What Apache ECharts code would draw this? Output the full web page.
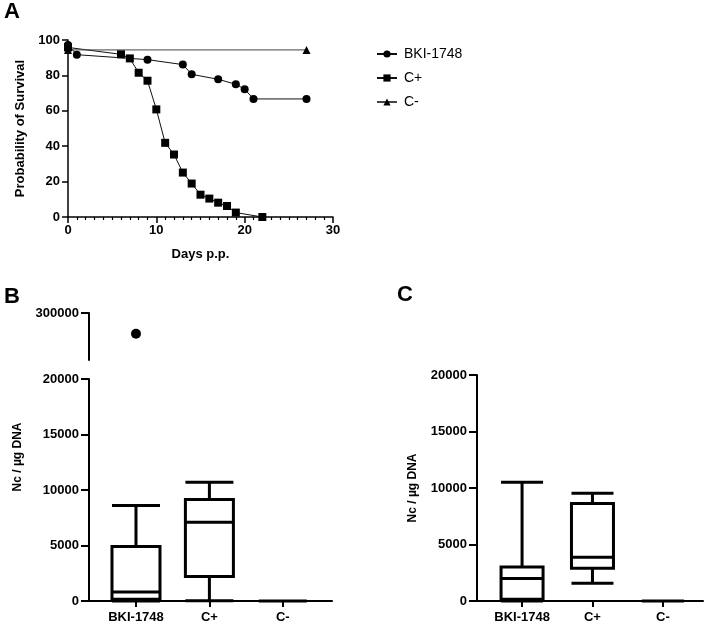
<!DOCTYPE html>
<html><head><meta charset="utf-8">
<script src="https://cdn.jsdelivr.net/npm/echarts@6/dist/echarts.min.js"></script>
<style>html,body{margin:0;padding:0;background:#fff}#c{width:705px;height:625px}</style>
</head><body><div id="c"></div>
<script>
// ---- data ----
const survivalNames = ['BKI-1748', 'C+', 'C-'];
const bkiSurvival = [[0,97.2],[1,91.7],[9,88.9],[13,86.1],[14,80.6],[17,77.8],[19,75],[20,72.2],[21,66.7],[27,66.7]];
const cPosSurvival = [[0,95.8],[6,91.9],[7,89.6],[8,81.5],[9,77],[10,60.8],[11,41.9],[12,35.3],[13,25.1],[14,18.9],[15,12.6],[16,10.4],[17,8.1],[18,6.2],[19,2.5],[22,0]];
const cNegSurvival = [[0,94.4],[27,94.4]];
const groupCats = ['BKI-1748', 'C+', 'C-'];
// boxplot values: [position, min, Q1, median, Q3, max]
const boxB = [[0,0,150,800,4900,8600],[1,30,2200,7100,9150,10700],[2,0,0,0,0,0]];
const outlierB = [[0,278000]];
const boxC = [[0,0,150,2000,3000,10500],[1,1570,2900,3870,8620,9540],[2,0,0,0,0,0]];
const survivalTicks = [0,20,40,60,80,100];

const FF = 'Liberation Sans';
const lab = {color:'#000', fontFamily:FF, fontWeight:'bold', fontSize:13, formatter:v=>String(v)};
function catAxis(grid, max){
  return {type:'value', gridIndex:grid, min:-0.64, max:max,
    axisLine:{show:true, onZero:false, lineStyle:{color:'#000', width:2}},
    axisTick:{show:true, length:6, lineStyle:{color:'#000', width:2}, customValues:[0,1,2]},
    axisLabel:Object.assign({}, lab, {margin:10, customValues:[0,1,2], formatter:v=>groupCats[Math.round(v)]}),
    splitLine:{show:false}};
}
function valAxis(grid, extra){
  return Object.assign({type:'value', gridIndex:grid, min:0, max:20000, interval:5000,
     axisLine:{show:true, onZero:false, lineStyle:{color:'#000', width:2}},
     axisTick:{show:true, length:8, lineStyle:{color:'#000', width:2}},
     axisLabel:Object.assign({}, lab, {margin:10}),
     splitLine:{show:false}}, extra || {});
}
const chart = echarts.init(document.getElementById('c'), null, {renderer:'canvas'});
chart.setOption({
  animation:false,
  backgroundColor:'#fff',
  title:[
    {text:'A', left:4, top:1, padding:0, textStyle:{fontFamily:FF, fontWeight:'bold', fontSize:22, color:'#000'}},
    {text:'B', left:4, top:286, padding:0, textStyle:{fontFamily:FF, fontWeight:'bold', fontSize:22, color:'#000'}},
    {text:'C', left:397, top:284, padding:0, textStyle:{fontFamily:FF, fontWeight:'bold', fontSize:22, color:'#000'}}
  ],
  legend:{orient:'vertical', left:371, top:42, itemWidth:20, itemHeight:9, itemGap:10,
    data:survivalNames,
    textStyle:{fontFamily:FF, fontSize:14, color:'#000', padding:[0,0,0,2]}},
  grid:[
    {left:68, top:40, width:265, height:177},
    {left:89, top:313, width:243, height:47},
    {left:89, top:379, width:243, height:222},
    {left:477, top:375, width:226, height:226}
  ],
  xAxis:[
    {type:'value', gridIndex:0, min:0, max:30, interval:10,
     name:'Days p.p.', nameLocation:'middle', nameGap:31,
     nameTextStyle:{fontFamily:FF, fontWeight:'bold', fontSize:13, color:'#000'},
     axisLine:{show:true, lineStyle:{color:'#000', width:1.5}},
     axisTick:{show:true, length:6, lineStyle:{color:'#000', width:1.5}},
     minorTick:{show:true, splitNumber:10, length:3, lineStyle:{color:'#000', width:1.2}},
     axisLabel:Object.assign({}, lab, {margin:7}),
     splitLine:{show:false}},
    {type:'value', gridIndex:1, min:-0.64, max:2.67, show:false},
    catAxis(2, 2.67),
    catAxis(3, 2.57)
  ],
  yAxis:[
    {type:'value', gridIndex:0, min:0, max:100, interval:20,
     name:'Probability of Survival', nameLocation:'middle', nameGap:41,
     nameTextStyle:{fontFamily:FF, fontWeight:'bold', fontSize:13, color:'#000'},
     axisLine:{show:true, onZero:false, lineStyle:{color:'#000', width:1.5}},
     axisTick:{show:true, length:6, lineStyle:{color:'#000', width:1.5}},
     axisLabel:Object.assign({}, lab, {margin:8, customValues:survivalTicks}),
     splitLine:{show:false}},
    {type:'value', gridIndex:1, min:250000, max:300000, interval:50000,
     axisLine:{show:true, onZero:false, lineStyle:{color:'#000', width:2}},
     axisTick:{show:true, length:8, lineStyle:{color:'#000', width:2}, customValues:[300000]},
     axisLabel:Object.assign({}, lab, {margin:10, customValues:[300000]}),
     splitLine:{show:false}},
    valAxis(2),
    valAxis(3, {name:'Nc / µg DNA', nameLocation:'middle', nameGap:58,
     nameTextStyle:{fontFamily:FF, fontWeight:'bold', fontSize:12, color:'#000'}})
  ],
  graphic:[
    {type:'text', x:18, y:457, rotation:Math.PI/2,
     style:{text:'Nc / µg DNA', fontFamily:FF, fontWeight:'bold', fontSize:12, fill:'#000', align:'center', verticalAlign:'middle'}}
  ],
  series:[
    {name:'BKI-1748', type:'line', xAxisIndex:0, yAxisIndex:0, data:bkiSurvival,
     symbol:'circle', symbolSize:8, itemStyle:{color:'#000'}, lineStyle:{color:'#111', width:1}},
    {name:'C+', type:'line', xAxisIndex:0, yAxisIndex:0, data:cPosSurvival,
     symbol:'rect', symbolSize:8, itemStyle:{color:'#000'}, lineStyle:{color:'#111', width:1}},
    {name:'C-', type:'line', xAxisIndex:0, yAxisIndex:0, data:cNegSurvival,
     symbol:'triangle', symbolSize:8, itemStyle:{color:'#000'}, lineStyle:{color:'#444', width:1}},
    {type:'scatter', xAxisIndex:1, yAxisIndex:1, data:outlierB, symbolSize:10, itemStyle:{color:'#000', opacity:1}},
    {type:'boxplot', xAxisIndex:2, yAxisIndex:2, data:boxB, boxWidth:[48,48],
     itemStyle:{color:'#fff', borderColor:'#000', borderWidth:3}},
    {type:'boxplot', xAxisIndex:3, yAxisIndex:3, data:boxC, boxWidth:[42,42],
     itemStyle:{color:'#fff', borderColor:'#000', borderWidth:3}}
  ]
});
</script></body></html>
